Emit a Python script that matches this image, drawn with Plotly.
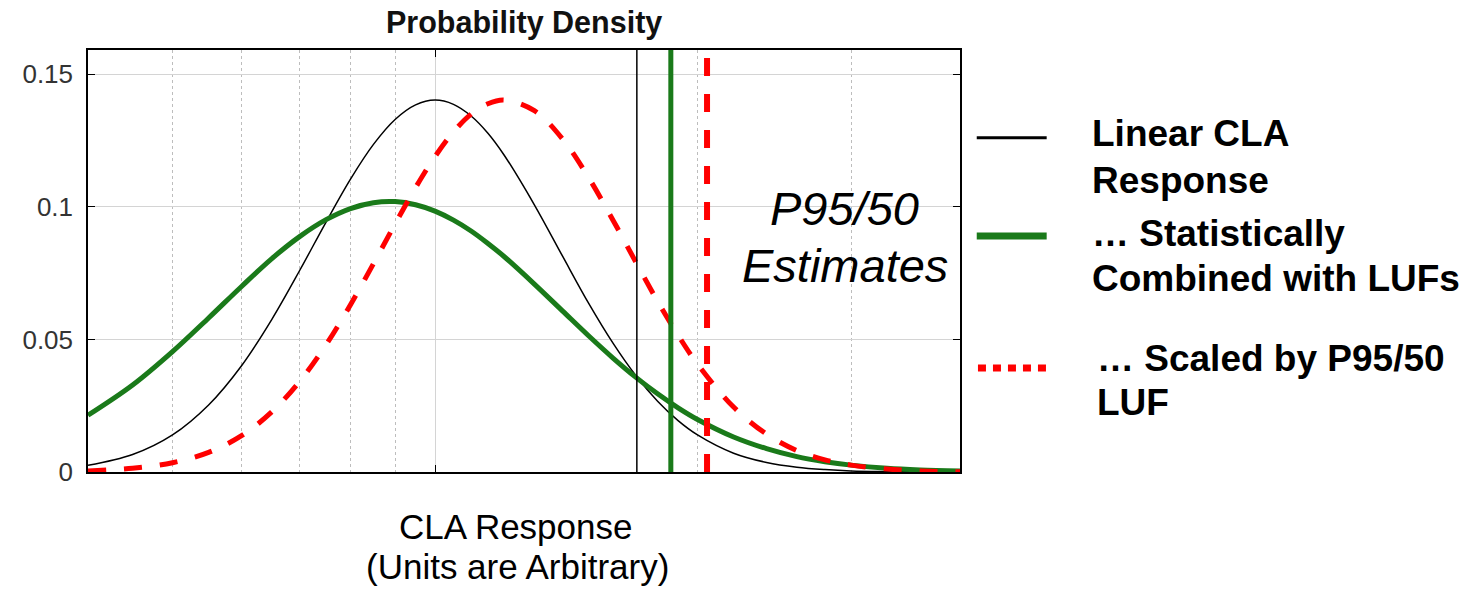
import plotly.graph_objects as go

# ---- data (x on a log axis, density values) ----
x_vals = [4, 4.5, 5, 5.5, 6, 6.5, 7, 7.5, 8, 8.5, 9, 9.5, 10, 10.5, 11, 11.5, 12,
          13, 14, 15, 16, 17, 18, 19, 20, 22, 24, 26, 28, 30, 33, 36, 40]

linear_cla = [0.0025, 0.0066, 0.0140, 0.0253, 0.0401, 0.0576, 0.0762, 0.0943, 0.1105,
              0.1236, 0.1330, 0.1385, 0.1403, 0.1387, 0.1343, 0.1278, 0.1196,
              0.1008, 0.0815, 0.0637, 0.0486, 0.0363, 0.0267, 0.0194, 0.0140,
              0.0071, 0.0036, 0.0018, 0.0009, 0.0004, 0.00015, 0.00005, 0.00001]

combined_lufs = [0.0214, 0.0328, 0.0454, 0.0581, 0.0700, 0.0805, 0.0889, 0.0952, 0.0994,
                 0.1016, 0.1020, 0.1008, 0.0984, 0.0950, 0.0909, 0.0862, 0.0813,
                 0.0709, 0.0608, 0.0514, 0.0430, 0.0357, 0.0295, 0.0242, 0.0198,
                 0.0132, 0.0088, 0.0058, 0.0039, 0.0026, 0.0014, 0.0008, 0.0004]

scaled_luf = [0.0004, 0.0014, 0.0035, 0.0074, 0.0137, 0.0227, 0.0343, 0.0480, 0.0631,
              0.0786, 0.0936, 0.1073, 0.1190, 0.1283, 0.1350, 0.1389, 0.1403,
              0.1363, 0.1257, 0.1111, 0.0950, 0.0791, 0.0644, 0.0516, 0.0407,
              0.0245, 0.0143, 0.0081, 0.0046, 0.0026, 0.0011, 0.0004, 0.0001]

# P95 estimates (vertical lines)
p95_linear = 17.04
p95_combined = 18.64
p95_scaled = 20.51

y_ticks = [0, 0.05, 0.1, 0.15]
y_ticktext = ["0", "0.05", "0.1", "0.15"]
y_max = 0.1592

legend_lines = [["Linear CLA", "Response"],
                ["\u2026 Statistically", "Combined with LUFs"],
                ["\u2026 Scaled by P95/50", "LUF"]]

FONT = "Arial, Liberation Sans, sans-serif"

fig = go.Figure()
fig.add_trace(go.Scatter(x=x_vals, y=linear_cla, mode="lines", line_shape="spline",
                         line=dict(color="black", width=1.5), showlegend=False))
fig.add_trace(go.Scatter(x=x_vals, y=combined_lufs, mode="lines", line_shape="spline",
                         line=dict(color="#1a7a1a", width=5), showlegend=False))
fig.add_trace(go.Scatter(x=x_vals, y=scaled_luf, mode="lines", line_shape="spline",
                         line=dict(color="#ff0000", width=5, dash="18px,18px"), showlegend=False))
fig.add_trace(go.Scatter(x=[p95_linear, p95_linear], y=[0, y_max], mode="lines",
                         line=dict(color="black", width=1.5), showlegend=False))
fig.add_trace(go.Scatter(x=[p95_combined, p95_combined], y=[0, y_max], mode="lines",
                         line=dict(color="#1a7a1a", width=5), showlegend=False))
fig.add_trace(go.Scatter(x=[p95_scaled, p95_scaled], y=[0, y_max], mode="lines",
                         line=dict(color="#ff0000", width=6, dash="18px,18px"), showlegend=False))

# legend glyphs
fig.add_shape(type="line", xref="paper", yref="paper", x0=1.0192, x1=1.0994, y0=0.7922, y1=0.7922,
              line=dict(color="black", width=3))
fig.add_shape(type="line", xref="paper", yref="paper", x0=1.0192, x1=1.0994, y0=0.5592, y1=0.5592,
              line=dict(color="#1a7a1a", width=7))
fig.add_shape(type="line", xref="paper", yref="paper", x0=1.0206, x1=1.1021, y0=0.2464, y1=0.2464,
              line=dict(color="#ff0000", width=7, dash="8px,7px"))

legend_pos = [(1.1491, [0.8012, 0.6903]), (1.1491, [0.5642, 0.4576]), (1.1549, [0.2680, 0.1654])]
for (lx, ys), texts in zip(legend_pos, legend_lines):
    for yy, t in zip(ys, texts):
        fig.add_annotation(x=lx, y=yy, xref="paper", yref="paper", text=t, showarrow=False,
                           xanchor="left", yanchor="middle",
                           font=dict(family=FONT, size=37, color="black", weight="bold"))

# in-plot italic text
fig.add_annotation(x=0.868, y=0.6244, xref="paper", yref="paper", text="<i>P95/50</i>",
                   showarrow=False, xanchor="center", yanchor="middle",
                   font=dict(family=FONT, size=47, color="black"))
fig.add_annotation(x=0.868, y=0.490, xref="paper", yref="paper", text="<i>Estimates</i>",
                   showarrow=False, xanchor="center", yanchor="middle",
                   font=dict(family=FONT, size=47, color="black"))

# title
fig.add_annotation(x=0.5, y=1.064, xref="paper", yref="paper", text="<b>Probability Density</b>",
                   showarrow=False, xanchor="center", yanchor="middle",
                   font=dict(family=FONT, size=30.5, color="#111111"))

# x-axis label (two lines)
fig.add_annotation(x=0.4897, y=-0.128, xref="paper", yref="paper", text="CLA Response",
                   showarrow=False, xanchor="center", yanchor="middle", borderpad=0,
                   font=dict(family=FONT, size=35, color="black"))
fig.add_annotation(x=0.4925, y=-0.2251, xref="paper", yref="paper", text="(Units are Arbitrary)",
                   showarrow=False, xanchor="center", yanchor="middle", borderpad=0,
                   font=dict(family=FONT, size=35, color="black"))

fig.update_layout(
    width=1476, height=593,
    margin=dict(l=88, r=516, t=50, b=121),
    paper_bgcolor="white", plot_bgcolor="white",
    font=dict(family=FONT),
    showlegend=False,
)
fig.update_xaxes(
    type="log", range=[0.60206, 1.60206],
    tickvals=[10], showticklabels=False,
    ticks="inside", ticklen=7, tickcolor="black", tickwidth=1,
    showgrid=True, gridcolor="#d4d4d4", gridwidth=1,
    minor=dict(tickvals=[5, 6, 7, 8, 9, 20, 30], showgrid=True, griddash="3px,3px",
               gridcolor="#bdbdbd", gridwidth=1, ticks=""),
    showline=True, linecolor="black", linewidth=1.5, mirror="ticks",
    zeroline=False,
)
fig.update_yaxes(
    range=[0, y_max], tickvals=y_ticks, ticktext=y_ticktext,
    ticks="inside", ticklen=7, tickcolor="black", tickwidth=1,
    tickfont=dict(family=FONT, size=26, color="#333333"),
    ticklabelstandoff=8,
    showgrid=True, gridcolor="#d4d4d4", gridwidth=1,
    showline=True, linecolor="black", linewidth=1.5, mirror="ticks",
    zeroline=False,
)

fig.write_html("out.html")
